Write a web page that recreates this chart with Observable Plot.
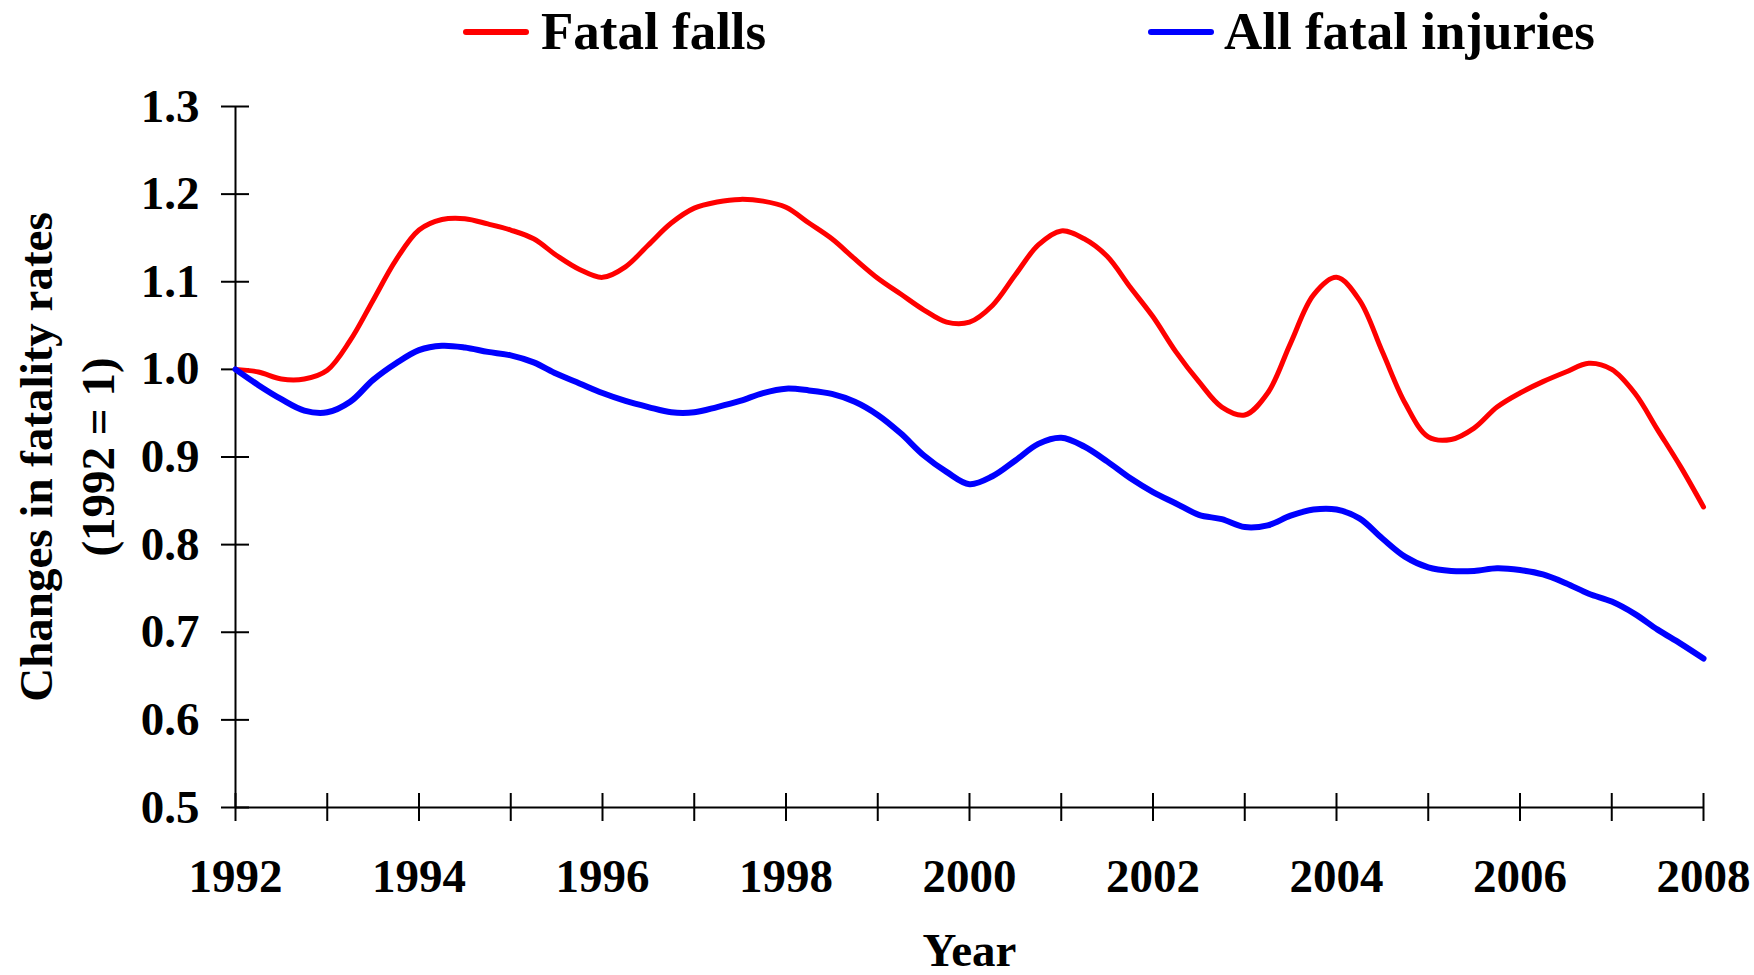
<!DOCTYPE html>
<html>
<head>
<meta charset="utf-8">
<script src="https://cdn.jsdelivr.net/npm/d3@7"></script>
<script src="https://cdn.jsdelivr.net/npm/@observablehq/plot@0.6"></script>
<style>
  html, body { margin: 0; padding: 0; background: #ffffff; }
  #legend { position: relative; width: 1754px; height: 60px; font-family: "Liberation Serif", "Times New Roman", serif; font-weight: bold; font-size: 53px; color: #000; }
  #legend .sw { position: absolute; top: 29px; width: 66px; height: 6px; border-radius: 3px; }
  #legend .lt { position: absolute; top: 5px; line-height: 53px; white-space: nowrap; }
  #chart svg { display: block; }
</style>
</head>
<body>
<div id="legend"></div>
<div id="chart"></div>
<script>
// ---- Data ----
const seriesNames = ["Fatal falls", "All fatal injuries"];
const seriesColors = ["#ff0000", "#0000ff"];

const years = [
  1992, 1992.25, 1992.5, 1992.75, 1993, 1993.25, 1993.5, 1993.75,
  1994, 1994.25, 1994.5, 1994.75, 1995, 1995.25, 1995.5, 1995.75,
  1996, 1996.25, 1996.5, 1996.75, 1997, 1997.25, 1997.5, 1997.75,
  1998, 1998.25, 1998.5, 1998.75, 1999, 1999.25, 1999.5, 1999.75,
  2000, 2000.25, 2000.5, 2000.75, 2001, 2001.25, 2001.5, 2001.75,
  2002, 2002.25, 2002.5, 2002.75, 2003, 2003.25, 2003.5, 2003.75,
  2004, 2004.25, 2004.5, 2004.75, 2005, 2005.25, 2005.5, 2005.75,
  2006, 2006.25, 2006.5, 2006.75, 2007, 2007.25, 2007.5, 2007.75,
  2008
];

const fatalFalls = [
  1.000, 0.997, 0.989, 0.989, 0.999, 1.033, 1.079, 1.125,
  1.159, 1.171, 1.172, 1.166, 1.159, 1.149, 1.130, 1.114,
  1.105, 1.117, 1.142, 1.167, 1.184, 1.191, 1.194, 1.192,
  1.185, 1.167, 1.149, 1.126, 1.104, 1.086, 1.068, 1.054,
  1.054, 1.073, 1.108, 1.142, 1.158, 1.149, 1.129, 1.094,
  1.060, 1.020, 0.986, 0.957, 0.948, 0.973, 1.030, 1.085,
  1.105, 1.079, 1.020, 0.961, 0.923, 0.920, 0.933, 0.957,
  0.973, 0.986, 0.997, 1.007, 1.000, 0.973, 0.931, 0.889,
  0.843
];

const allFatalInjuries = [
  1.000, 0.982, 0.966, 0.953, 0.951, 0.963, 0.988, 1.007,
  1.022, 1.027, 1.025, 1.020, 1.016, 1.008, 0.995, 0.984,
  0.973, 0.964, 0.957, 0.951, 0.951, 0.957, 0.964, 0.973,
  0.978, 0.976, 0.972, 0.963, 0.948, 0.927, 0.902, 0.883,
  0.869, 0.878, 0.896, 0.915, 0.922, 0.912, 0.895, 0.876,
  0.860, 0.847, 0.834, 0.829, 0.820, 0.822, 0.833, 0.840,
  0.840, 0.830, 0.807, 0.786, 0.774, 0.770, 0.770, 0.773,
  0.771, 0.766, 0.756, 0.744, 0.735, 0.721, 0.703, 0.687,
  0.670
];

const yTicks = [0.5, 0.6, 0.7, 0.8, 0.9, 1.0, 1.1, 1.2, 1.3];
const xTicks = [1992, 1993, 1994, 1995, 1996, 1997, 1998, 1999, 2000, 2001, 2002, 2003, 2004, 2005, 2006, 2007, 2008];
const xLabels = [1992, 1994, 1996, 1998, 2000, 2002, 2004, 2006, 2008];
const yTitleLines = ["Changes in fatality rates", "(1992 = 1)"];
const xTitle = "Year";

// ---- Build table ----
const seriesValues = [fatalFalls, allFatalInjuries];
const rows = [];
seriesNames.forEach((name, s) => {
  years.forEach((t, i) => rows.push({ year: t, value: seriesValues[s][i], series: name }));
});

// ---- Legend ----
const legend = document.getElementById("legend");
const legendSwatchLeft = [463, 1148];
const legendTextLeft = [541, 1224];
seriesNames.forEach((name, s) => {
  const sw = document.createElement("div");
  sw.className = "sw";
  sw.style.left = legendSwatchLeft[s] + "px";
  sw.style.background = seriesColors[s];
  legend.appendChild(sw);
  const lt = document.createElement("div");
  lt.className = "lt";
  lt.style.left = legendTextLeft[s] + "px";
  lt.textContent = name;
  legend.appendChild(lt);
});

// ---- Chart ----
const FONT = '"Liberation Serif", "Times New Roman", serif';
const x0 = xTicks[0], x1 = xTicks[xTicks.length - 1];
const y0 = yTicks[0], y1 = yTicks[yTicks.length - 1];
const txt = { fontSize: 47, fontWeight: "bold", fontFamily: FONT, fill: "#000" };

const chart = Plot.plot({
  width: 1754,
  height: 915,
  marginTop: 46,
  marginBottom: 168,
  marginLeft: 235,
  marginRight: 51,
  style: { fontFamily: FONT, fontWeight: "bold", fontSize: "47px", color: "#000", background: "#fff", overflow: "visible" },
  x: { domain: [x0, x1], axis: null },
  y: { domain: [y0, y1], axis: null },
  color: { domain: seriesNames, range: seriesColors },
  marks: [
    // axis lines
    Plot.ruleX([x0], { y1: y0, y2: y1, stroke: "#000", strokeWidth: 2 }),
    Plot.ruleY([y0], { x1: x0, x2: x1, stroke: "#000", strokeWidth: 2 }),
    // crossing ticks
    Plot.ruleY(yTicks, { y: d => d, x1: x0, x2: x0, insetLeft: -14, insetRight: -14, stroke: "#000", strokeWidth: 2 }),
    Plot.ruleX(xTicks, { x: d => d, y1: y0, y2: y0, insetTop: -14, insetBottom: -14, stroke: "#000", strokeWidth: 2 }),
    // tick labels
    Plot.text(yTicks, { x: x0, y: d => d, text: d => d.toFixed(1), textAnchor: "end", dx: -36, ...txt }),
    Plot.text(xLabels, { x: d => d, y: y0, text: d => String(d), lineAnchor: "bottom", dy: 84, ...txt }),
    // titles
    Plot.text([xTitle], { frameAnchor: "bottom", text: d => d, textAnchor: "middle", lineAnchor: "bottom", dy: 158, ...txt }),
    Plot.text([yTitleLines[0]], { frameAnchor: "left", text: d => d, textAnchor: "middle", rotate: -90, lineAnchor: "bottom", dx: -184, ...txt }),
    Plot.text([yTitleLines[1]], { frameAnchor: "left", text: d => d, textAnchor: "middle", rotate: -90, lineAnchor: "bottom", dx: -122, ...txt }),
    // series lines
    Plot.line(rows.filter(r => r.series === seriesNames[0]), { x: "year", y: "value", stroke: "series", strokeWidth: 5, curve: "catmull-rom", strokeLinejoin: "round", strokeLinecap: "round" }),
    Plot.line(rows.filter(r => r.series === seriesNames[1]), { x: "year", y: "value", stroke: "series", strokeWidth: 6, curve: "catmull-rom", strokeLinejoin: "round", strokeLinecap: "round" })
  ]
});
document.getElementById("chart").appendChild(chart);
</script>
</body>
</html>
